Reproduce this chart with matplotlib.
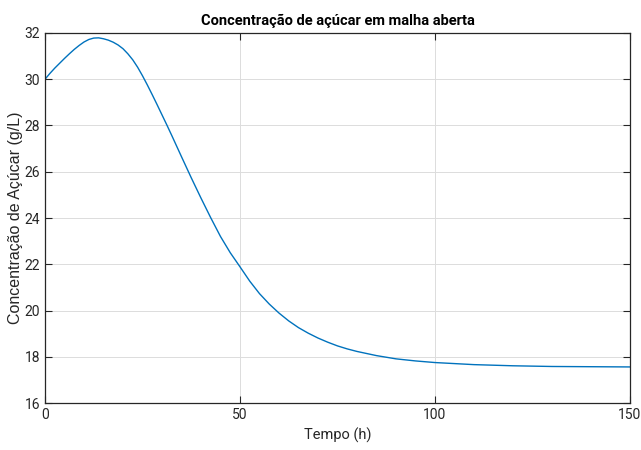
import numpy as np
import matplotlib
matplotlib.use('Agg')
import matplotlib.pyplot as plt

# tempo (h) e concentração de açúcar (g/L), malha aberta
tempo = [0, 1.25, 2.5, 3.75, 5, 6.25, 7.5, 8.75, 10, 11.25, 12.5, 13.75, 15,
         16.25, 17.5, 18.75, 20, 21.25, 22.5, 23.75, 25, 26.25, 27.5, 28.75,
         30, 31.25, 32.5, 33.75, 35, 37.5, 40, 42.5, 45, 47.5, 50, 52.5, 55,
         57.5, 60, 62.5, 65, 67.5, 70, 72.5, 75, 77.5, 80, 85, 90, 95, 100,
         110, 120, 130, 140, 150]
acucar = [30.00, 30.25, 30.48, 30.69, 30.90, 31.10, 31.29, 31.46, 31.61, 31.72,
          31.78, 31.79, 31.75, 31.69, 31.60, 31.48, 31.32, 31.10, 30.84, 30.52,
          30.15, 29.75, 29.33, 28.90, 28.46, 28.02, 27.57, 27.11, 26.65, 25.74,
          24.86, 24.01, 23.20, 22.50, 21.89, 21.27, 20.73, 20.28, 19.89, 19.55,
          19.26, 19.02, 18.81, 18.63, 18.47, 18.34, 18.23, 18.05, 17.91, 17.82,
          17.75, 17.66, 17.61, 17.58, 17.57, 17.56]

xticks = [0, 50, 100, 150]
yticks = [16, 18, 20, 22, 24, 26, 28, 30, 32]

fig = plt.figure(figsize=(6.41, 4.5), dpi=100)
ax = fig.add_axes([0.0702, 0.1044, 0.9126, 0.8223])

ax.plot(tempo, acucar, color='#0072BD', linewidth=1.0)

ax.set_xlim(0, 150)
ax.set_ylim(16, 32)
ax.set_xticks(xticks)
ax.set_yticks(yticks)
ax.grid(True, color='#dcdcdc', linewidth=0.7)
ax.set_axisbelow(True)
ax.tick_params(direction='in', top=True, right=True, length=5, width=0.8,
               labelsize=10, colors='#262626')
for lbl in ax.get_xticklabels() + ax.get_yticklabels():
    lbl.set_family('Roboto')
for s in ax.spines.values():
    s.set_color('#262626')
    s.set_linewidth(0.9)

ax.set_title('Concentração de açúcar em malha aberta', fontsize=10.5,
             fontweight='bold', family='Roboto', pad=6)
ax.set_xlabel('Tempo (h)', fontsize=10.5, family='Roboto', color='#262626')
ax.set_ylabel('Concentração de Açúcar (g/L)', fontsize=11.5,
              family='Liberation Sans', color='#262626', labelpad=1)

fig.savefig('out.png', dpi=100)
